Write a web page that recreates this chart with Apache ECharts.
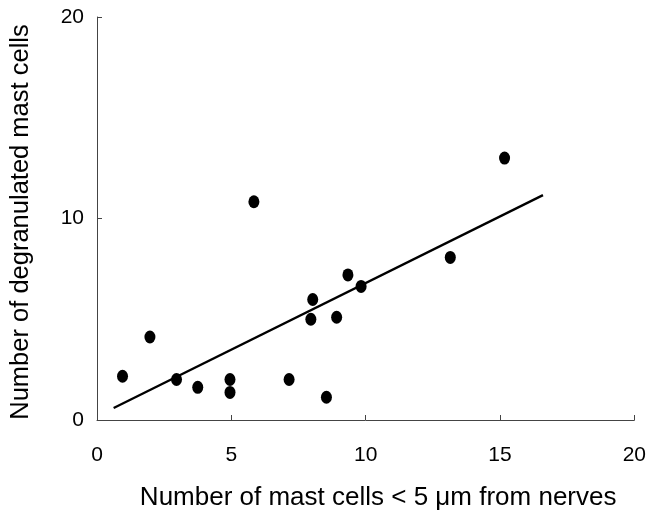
<!DOCTYPE html>
<html>
<head>
<meta charset="utf-8">
<script src="https://cdn.jsdelivr.net/npm/echarts@6/dist/echarts.min.js"></script>
<style>html,body{margin:0;padding:0;background:#fff;}#c{width:649px;height:516px;}</style>
</head>
<body>
<div id="c"></div>
<script>
const xValues = [0.95, 1.97, 2.96, 3.75, 4.95, 4.95, 5.84, 7.15, 7.96, 8.03, 8.54, 8.92, 9.34, 9.83, 13.15, 15.17];
const yValues = [2.17, 4.12, 2.01, 1.62, 2.01, 1.37, 10.83, 2.01, 5.00, 5.98, 1.13, 5.10, 7.20, 6.63, 8.07, 13.00];
const fitX = [0.62, 16.6];
const fitY = [0.60, 11.16];
const xTitle = 'Number of mast cells < 5 \u03bcm from nerves';
const yTitle = 'Number of degranulated mast cells';

const font = 'Liberation Sans, Arial, Helvetica, sans-serif';
const chart = echarts.init(document.getElementById('c'), null, {renderer: 'canvas'});
const axisCommon = {
  axisLine: {show: true, lineStyle: {color: '#444', width: 1}},
  axisTick: {show: true, inside: true, length: 5, lineStyle: {color: '#444', width: 1}},
  splitLine: {show: false},
  nameLocation: 'middle'
};
chart.setOption({
  animation: false,
  backgroundColor: '#fff',
  grid: {left: 97, right: 12, top: 17, bottom: 91, containLabel: false},
  xAxis: Object.assign({}, axisCommon, {
    type: 'value', min: 0, max: 20, interval: 5,
    name: xTitle, nameGap: 65,
    nameTextStyle: {fontFamily: font, fontSize: 26, color: '#000', padding: [0, 0, 0, 25]},
    axisLabel: {fontFamily: font, fontSize: 21, color: '#000', margin: 25}
  }),
  yAxis: Object.assign({}, axisCommon, {
    type: 'value', min: 0, max: 20, interval: 10,
    name: yTitle, nameGap: 63,
    nameTextStyle: {fontFamily: font, fontSize: 25.5, color: '#000', padding: [0, 7, 0, 0]},
    axisLabel: {fontFamily: font, fontSize: 21, color: '#000', margin: 13}
  }),
  series: [
    {
      type: 'line',
      data: fitX.map((x, i) => [x, fitY[i]]),
      showSymbol: false, symbol: 'none',
      lineStyle: {color: '#000', width: 2.3},
      silent: true, z: 2
    },
    {
      type: 'scatter',
      data: xValues.map((x, i) => [x, yValues[i]]),
      symbol: 'path://M50,0 A50,50 0 1,1 50,100 A50,50 0 1,1 50,0 Z',
      symbolSize: [11, 13],
      itemStyle: {color: '#000', opacity: 1},
      z: 3
    }
  ]
});
</script>
</body>
</html>
